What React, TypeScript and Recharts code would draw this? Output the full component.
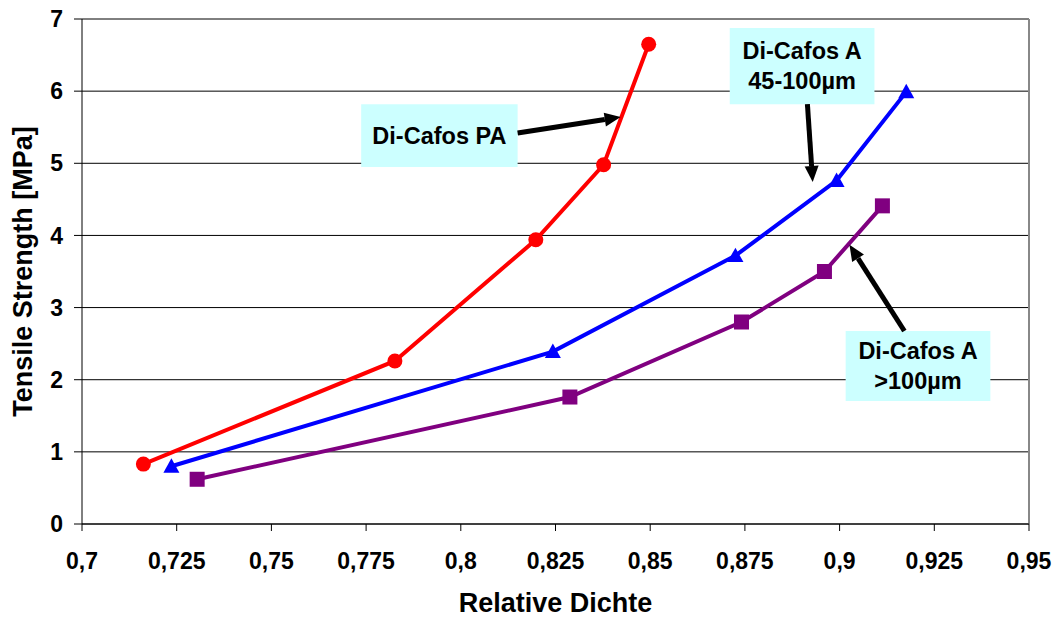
import { Label, Line, LineChart, CartesianGrid, ReferenceArea, ReferenceLine, XAxis, YAxis } from "recharts";

// Relative Dichte (x) and Tensile Strength in MPa (y)
const paDichte = [0.7162, 0.7826, 0.8198, 0.8377, 0.8496];
const paStrength = [0.83, 2.26, 3.94, 4.98, 6.65];

const a45Dichte = [0.7236, 0.8243, 0.8725, 0.8992, 0.9176];
const a45Strength = [0.8, 2.39, 3.72, 4.76, 5.99];

const a100Dichte = [0.7304, 0.8288, 0.8741, 0.896, 0.9113];
const a100Strength = [0.62, 1.76, 2.8, 3.5, 4.41];

const xTicks = [0.7, 0.725, 0.75, 0.775, 0.8, 0.825, 0.85, 0.875, 0.9, 0.925, 0.95];
const yTicks = [0, 1, 2, 3, 4, 5, 6, 7];

const toPoints = (xs: number[], ys: number[]) => xs.map((x, i) => ({ x, y: ys[i] }));
const paData = toPoints(paDichte, paStrength);
const a45Data = toPoints(a45Dichte, a45Strength);
const a100Data = toPoints(a100Dichte, a100Strength);

const FONT = '"Liberation Sans", Arial, sans-serif';
const BOX_FILL = "#CCFFFF";

const fmt = (v: number) => String(v).replace(".", ",");

function Triangle(props: any) {
  const { cx, cy, fill } = props;
  if (cx == null || cy == null) return null;
  const s = 8;
  return <polygon points={`${cx},${cy - s} ${cx + s},${cy + s * 0.8} ${cx - s},${cy + s * 0.8}`} fill={fill} />;
}

function Square(props: any) {
  const { cx, cy, fill } = props;
  if (cx == null || cy == null) return null;
  const s = 7.5;
  return <rect x={cx - s} y={cy - s} width={s * 2} height={s * 2} fill={fill} />;
}

function Arrow(props: any) {
  const { x1, y1, x2, y2 } = props;
  const ang = Math.atan2(y2 - y1, x2 - x1);
  const len = 16;
  const half = 7;
  const bx = x2 - len * Math.cos(ang);
  const by = y2 - len * Math.sin(ang);
  const px = -Math.sin(ang) * half;
  const py = Math.cos(ang) * half;
  return (
    <g>
      <line x1={x1} y1={y1} x2={bx} y2={by} stroke="#000" strokeWidth={5} />
      <polygon points={`${x2},${y2} ${bx + px},${by + py} ${bx - px},${by - py}`} fill="#000" />
    </g>
  );
}

function boxLabel(lines: string[]) {
  return (props: any) => {
    const { x, y, width, height } = props.viewBox;
    const cx = x + width / 2;
    const lh = 30;
    const first = y + height / 2 - ((lines.length - 1) * lh) / 2 + 8;
    return (
      <text x={cx} textAnchor="middle" fontFamily={FONT} fontWeight="bold" fontSize={23.5} fill="#000">
        {lines.map((t, i) => (
          <tspan key={i} x={cx} y={first + i * lh}>
            {t}
          </tspan>
        ))}
      </text>
    );
  };
}

export default function App() {
  return (
    <div style={{ position: "absolute", left: 0, top: 0, background: "#fff", fontFamily: FONT }}>
      <LineChart width={1060} height={619} margin={{ top: 19, right: 31, left: 0, bottom: 0 }}>
        <CartesianGrid vertical={false} stroke="#000" strokeWidth={1} />
        <XAxis
          type="number"
          dataKey="x"
          domain={[0.7, 0.95]}
          ticks={xTicks}
          tickFormatter={fmt}
          allowDataOverflow
          height={95}
          stroke="#000"
          tickSize={7}
          tickMargin={22}
          tick={{ fill: "#000", fontSize: 23, fontWeight: "bold", fontFamily: FONT }}
        >
          <Label
            value="Relative Dichte"
            position="insideBottom"
            offset={7}
            style={{ fill: "#000", fontSize: 27, fontWeight: "bold", fontFamily: FONT }}
          />
        </XAxis>
        <YAxis
          type="number"
          dataKey="y"
          domain={[0, 7]}
          ticks={yTicks}
          width={82}
          stroke="#000"
          tickSize={8}
          tickMargin={11}
          tick={{ fill: "#000", fontSize: 23, fontWeight: "bold", fontFamily: FONT }}
        >
          <Label
            value="Tensile Strength [MPa]"
            angle={-90}
            position="insideLeft"
            offset={22}
            style={{ textAnchor: "middle", fill: "#000", fontSize: 27, fontWeight: "bold", fontFamily: FONT }}
          />
        </YAxis>
        <ReferenceLine x={0.95} stroke="#888" strokeWidth={2} />

        <ReferenceArea x1={0.7737} x2={0.815} y1={4.95} y2={5.82} fill={BOX_FILL} fillOpacity={1} stroke="none" label={boxLabel(["Di-Cafos PA"])} />
        <ReferenceArea x1={0.871} x2={0.9092} y1={5.82} y2={6.875} fill={BOX_FILL} fillOpacity={1} stroke="none" label={boxLabel(["Di-Cafos A", "45-100µm"])} />
        <ReferenceArea x1={0.9016} x2={0.9398} y1={1.705} y2={2.675} fill={BOX_FILL} fillOpacity={1} stroke="none" label={boxLabel(["Di-Cafos A", ">100µm"])} />

        <Line data={paData} dataKey="y" type="linear" stroke="#FF0000" strokeWidth={4} dot={{ r: 7.5, fill: "#FF0000", stroke: "none" }} activeDot={false} isAnimationActive={false} />
        <Line data={a45Data} dataKey="y" type="linear" stroke="#0000FF" strokeWidth={4} dot={<Triangle fill="#0000FF" />} activeDot={false} isAnimationActive={false} />
        <Line data={a100Data} dataKey="y" type="linear" stroke="#800080" strokeWidth={4} dot={<Square fill="#800080" />} activeDot={false} isAnimationActive={false} />

        <ReferenceLine segment={[{ x: 0.815, y: 5.42 }, { x: 0.8422, y: 5.64 }]} shape={Arrow} />
        <ReferenceLine segment={[{ x: 0.8915, y: 5.82 }, { x: 0.8929, y: 4.74 }]} shape={Arrow} />
        <ReferenceLine segment={[{ x: 0.9171, y: 2.675 }, { x: 0.9026, y: 3.87 }]} shape={Arrow} />
      </LineChart>
    </div>
  );
}
